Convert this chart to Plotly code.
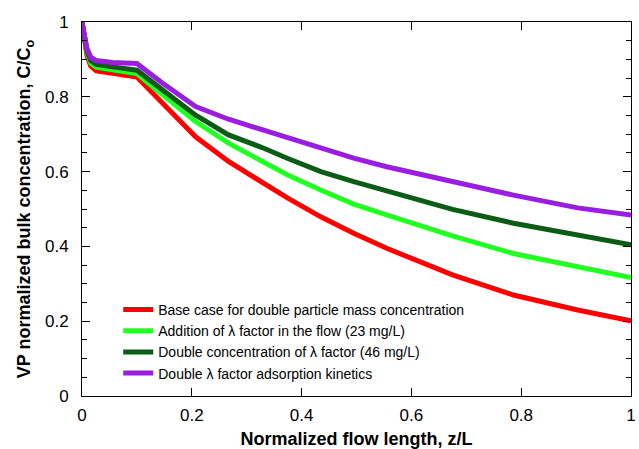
import plotly.graph_objects as go

z = [0, 0.004, 0.009, 0.016, 0.026, 0.056, 0.087, 0.10, 0.147, 0.207, 0.267, 0.327,
     0.375, 0.435, 0.495, 0.555, 0.615, 0.675, 0.786, 0.903, 1.0]

red = [1, 0.955, 0.91, 0.882, 0.869, 0.863, 0.857, 0.853, 0.783, 0.693, 0.627, 0.573,
       0.529, 0.479, 0.435, 0.395, 0.359, 0.324, 0.270, 0.230, 0.201]
green = [1, 0.958, 0.918, 0.890, 0.879, 0.872, 0.866, 0.862, 0.805, 0.734, 0.676, 0.630,
         0.591, 0.551, 0.513, 0.484, 0.455, 0.428, 0.381, 0.346, 0.317]
dkgreen = [1, 0.961, 0.923, 0.897, 0.887, 0.880, 0.875, 0.871, 0.818, 0.751, 0.698, 0.665,
           0.635, 0.600, 0.573, 0.548, 0.524, 0.499, 0.462, 0.430, 0.404]
purple = [1, 0.965, 0.93, 0.906, 0.897, 0.892, 0.891, 0.889, 0.836, 0.774, 0.740, 0.713,
          0.692, 0.662, 0.636, 0.613, 0.593, 0.573, 0.537, 0.503, 0.484]

names = [
    "Base case for double particle mass concentration",
    "Addition of \u03bb factor in the flow (23 mg/L)",
    "Double concentration of \u03bb factor (46 mg/L)",
    "Double \u03bb factor adsorption kinetics",
]
colors = ["#ff0000", "#22ff22", "#0b5d16", "#9a1ee0"]
series = [red, green, dkgreen, purple]

fig = go.Figure()
for n, c, s in zip(names, colors, series):
    fig.add_trace(go.Scatter(x=z, y=s, mode="lines", name=n,
                             line=dict(color=c, width=5)))

FONT = "Arial, Liberation Sans, sans-serif"
axis_common = dict(
    showline=True, linewidth=1, linecolor="black", mirror="allticks",
    ticks="inside", ticklen=8, tickcolor="black", showgrid=False, zeroline=False,
    tickfont=dict(family=FONT, size=17, color="black"),
)

fig.update_xaxes(range=[0, 1], dtick=0.2, tick0=0, tickformat="~g",
                 ticklabeloverflow="allow", ticklabelstandoff=4,
                 title=dict(text="<b>Normalized flow length, z/L</b>",
                            font=dict(family=FONT, size=18, color="black"),
                            standoff=8),
                 **axis_common)
fig.update_yaxes(range=[0, 1], dtick=0.2, tick0=0, tickformat="~g",
                 ticklabelstandoff=9,
                 minor=dict(dtick=0.05, ticks="inside", ticklen=5, tickcolor="black"),
                 title=dict(text="<b>VP normalized bulk concentration, C/C<sub>o</sub></b>",
                            font=dict(family=FONT, size=18, color="black"),
                            standoff=9),
                 **axis_common)

fig.update_layout(
    width=639, height=449,
    margin=dict(l=82, r=3, t=22, b=52),
    plot_bgcolor="white", paper_bgcolor="white",
    legend=dict(x=0.066, y=0.273, xanchor="left", yanchor="top",
                bgcolor="rgba(0,0,0,0)",
                font=dict(family=FONT, size=14, color="black"),
                tracegroupgap=0),
    showlegend=True,
)

fig.write_html("out.html", config={"displayModeBar": False},
               post_script="document.body.style.margin='0';document.body.style.overflow='hidden';")
